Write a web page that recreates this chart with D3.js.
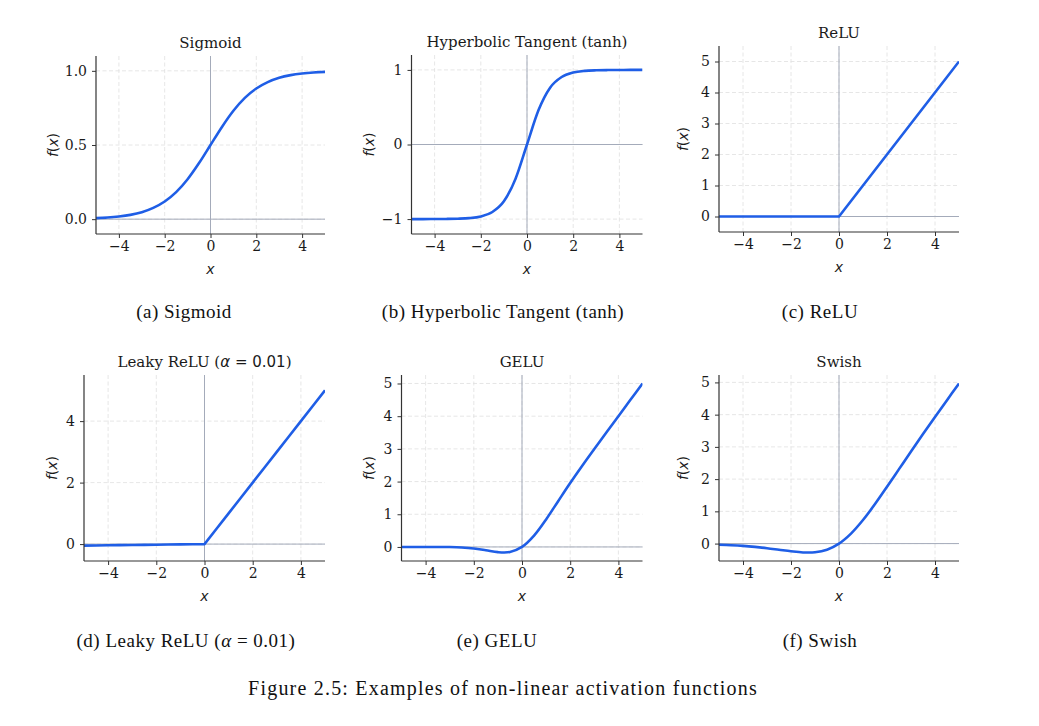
<!DOCTYPE html>
<html>
<head>
<meta charset="utf-8">
<script src="https://cdn.jsdelivr.net/npm/d3@7"></script>
<style>
  body { margin: 0; background: #fff; }
  svg { display: block; }
</style>
</head>
<body>
<div id="chart"></div>
<script>
// Sample points along x
const xs = [-5, -4.5, -4, -3.5, -3, -2.5, -2, -1.5, -1, -0.5, 0, 0.5, 1, 1.5, 2, 2.5, 3, 3.5, 4, 4.5, 5];

const sigmoidY = [0.007, 0.011, 0.018, 0.029, 0.047, 0.076, 0.119, 0.182, 0.269, 0.378, 0.5,
  0.622, 0.731, 0.818, 0.881, 0.924, 0.953, 0.971, 0.982, 0.989, 0.993];
const tanhY = [-1.0, -1.0, -0.999, -0.998, -0.995, -0.987, -0.964, -0.905, -0.762, -0.462, 0,
  0.462, 0.762, 0.905, 0.964, 0.987, 0.995, 0.998, 0.999, 1.0, 1.0];
const reluY = [0, 0, 0, 0, 0, 0, 0, 0, 0, 0, 0, 0.5, 1, 1.5, 2, 2.5, 3, 3.5, 4, 4.5, 5];
const leakyY = [-0.05, -0.045, -0.04, -0.035, -0.03, -0.025, -0.02, -0.015, -0.01, -0.005, 0,
  0.5, 1, 1.5, 2, 2.5, 3, 3.5, 4, 4.5, 5];
const geluY = [0, 0, -0.0001, -0.001, -0.004, -0.016, -0.046, -0.100, -0.159, -0.154, 0,
  0.346, 0.841, 1.400, 1.955, 2.484, 2.996, 3.499, 4.0, 4.5, 5.0];
const swishY = [-0.034, -0.050, -0.072, -0.103, -0.142, -0.190, -0.238, -0.274, -0.269, -0.189, 0,
  0.311, 0.731, 1.226, 1.762, 2.310, 2.858, 3.397, 3.928, 4.450, 4.967];

const xTicks = [-4, -2, 0, 2, 4];
const sigmoidTicks = [0, 0.5, 1];
const tanhTicks = [-1, 0, 1];
const reluTicks = [0, 1, 2, 3, 4, 5];
const leakyTicks = [0, 2, 4];

const titles = ['Sigmoid', 'Hyperbolic Tangent (tanh)', 'ReLU', 'Leaky ReLU', 'GELU', 'Swish'];
const captions = ['(a) Sigmoid', '(b) Hyperbolic Tangent (tanh)', '(c) ReLU', '(d) Leaky ReLU', '(e) GELU', '(f) Swish'];
const figureCaption = 'Figure 2.5: Examples of non-linear activation functions';

const width = 1039;
const height = 726;

const lineColor = '#1f5ee6';
const zeroColor = '#a4abba';
const gridColor = '#e0e0e0';
const spineColor = '#333';
const textColor = '#1a1a1a';
const serif = '"DejaVu Serif", serif';
const sans = '"DejaVu Sans", sans-serif';
const capFont = '"Liberation Serif", "Times New Roman", serif';

// Panel boxes: [left, right, top, bottom], y domain, caption centre
const panels = [
  { ys: sigmoidY, yDomain: [-0.1, 1.1], ticks: sigmoidTicks, fmt: d3.format('.1f'), box: [96, 325, 56, 234], labelOff: 43, capX: 184, capY: 318, curve: d3.curveMonotoneX },
  { ys: tanhY, yDomain: [-1.2, 1.2], ticks: tanhTicks, fmt: d3.format('d'), box: [411.5, 642.5, 55, 234], labelOff: 42, capX: 503, capY: 318, curve: d3.curveMonotoneX },
  { ys: reluY, yDomain: [-0.5, 5.5], ticks: reluTicks, fmt: d3.format('d'), box: [719, 959, 46, 232], labelOff: 36, capX: 820, capY: 318, curve: d3.curveLinear },
  { ys: leakyY, yDomain: [-0.55, 5.5], ticks: leakyTicks, fmt: d3.format('d'), box: [84, 325, 375, 561], labelOff: 32, capX: 186, capY: 647, curve: d3.curveLinear, alpha: true },
  { ys: geluY, yDomain: [-0.43, 5.26], ticks: reluTicks, fmt: d3.format('d'), box: [401.5, 642.5, 375, 561], labelOff: 32, capX: 497, capY: 647, curve: d3.curveCatmullRom },
  { ys: swishY, yDomain: [-0.54, 5.23], ticks: reluTicks, fmt: d3.format('d'), box: [719, 959, 375, 561], labelOff: 36, capX: 820, capY: 647, curve: d3.curveCatmullRom }
];

const svg = d3.select('#chart')
  .append('svg')
  .attr('width', width)
  .attr('height', height);

const defs = svg.append('defs');

panels.forEach((p, i) => {
  const [left, right, top, bottom] = p.box;

  const x = d3.scaleLinear().domain([-5, 5]).range([left, right]);
  const y = d3.scaleLinear().domain(p.yDomain).range([bottom, top]);

  const g = svg.append('g').attr('class', 'panel');

  // Clip so the thick line stops at the axes edge
  defs.append('clipPath')
    .attr('id', 'clip' + i)
    .append('rect')
    .attr('x', left).attr('y', top)
    .attr('width', right - left).attr('height', bottom - top);

  // Dashed grid
  g.selectAll('.vgrid')
    .data(xTicks)
    .enter().append('line')
    .attr('x1', d => x(d)).attr('x2', d => x(d))
    .attr('y1', top).attr('y2', bottom)
    .style('stroke', gridColor)
    .style('stroke-width', 0.8)
    .style('stroke-dasharray', '4,2.5');

  g.selectAll('.hgrid')
    .data(p.ticks)
    .enter().append('line')
    .attr('x1', left).attr('x2', right)
    .attr('y1', d => y(d)).attr('y2', d => y(d))
    .style('stroke', gridColor)
    .style('stroke-width', 0.8)
    .style('stroke-dasharray', '4,2.5');

  // Zero lines
  g.append('line')
    .attr('x1', x(0)).attr('x2', x(0))
    .attr('y1', top).attr('y2', bottom)
    .style('stroke', zeroColor)
    .style('stroke-width', 1);

  g.append('line')
    .attr('x1', left).attr('x2', right)
    .attr('y1', y(0)).attr('y2', y(0))
    .style('stroke', zeroColor)
    .style('stroke-width', 1);

  // The function curve
  const line = d3.line()
    .x((d, j) => x(xs[j]))
    .y(d => y(d))
    .curve(p.curve);

  g.append('path')
    .datum(p.ys)
    .attr('d', line)
    .attr('clip-path', `url(#clip${i})`)
    .style('fill', 'none')
    .style('stroke', lineColor)
    .style('stroke-width', 2.6)
    .style('stroke-linejoin', 'round');

  // Axes
  const xAxis = d3.axisBottom(x).tickValues(xTicks).tickSize(4).tickPadding(3).tickFormat(d3.format('d'));
  const yAxis = d3.axisLeft(y).tickValues(p.ticks).tickSize(4).tickPadding(5).tickFormat(p.fmt);

  const xg = g.append('g')
    .attr('transform', `translate(0, ${bottom})`)
    .call(xAxis);
  const yg = g.append('g')
    .attr('transform', `translate(${left}, 0)`)
    .call(yAxis);

  [xg, yg].forEach(ax => {
    ax.select('.domain').remove();
    ax.selectAll('line').style('stroke', spineColor).style('stroke-width', 1);
    ax.selectAll('text')
      .style('font-family', serif)
      .style('font-size', '14px')
      .style('fill', textColor);
  });

  // Spines (left and bottom only)
  g.append('line')
    .attr('x1', left).attr('x2', left)
    .attr('y1', top).attr('y2', bottom)
    .style('stroke', spineColor).style('stroke-width', 1.2);
  g.append('line')
    .attr('x1', left).attr('x2', right)
    .attr('y1', bottom).attr('y2', bottom)
    .style('stroke', spineColor).style('stroke-width', 1.2);

  // Title
  const title = g.append('text')
    .attr('x', (left + right) / 2)
    .attr('y', top - 8)
    .attr('text-anchor', 'middle')
    .style('font-family', serif)
    .style('font-size', '15px')
    .style('fill', textColor)
    .text(titles[i]);
  if (p.alpha) {
    title.append('tspan').text(' (');
    title.append('tspan').style('font-family', sans).style('font-style', 'italic').text('α');
    title.append('tspan').style('font-family', sans).text(' = 0.01');
    title.append('tspan').text(')');
  }

  // x label
  g.append('text')
    .attr('x', (left + right) / 2)
    .attr('y', bottom + 40)
    .attr('text-anchor', 'middle')
    .style('font-family', sans)
    .style('font-style', 'italic')
    .style('font-size', '14px')
    .style('fill', textColor)
    .text('x');

  // y label
  const yl = g.append('text')
    .attr('transform', `translate(${left - p.labelOff}, ${(top + bottom) / 2}) rotate(-90)`)
    .attr('text-anchor', 'middle')
    .attr('dy', '0.35em')
    .style('font-family', sans)
    .style('font-size', '14px')
    .style('fill', textColor);
  yl.append('tspan').style('font-style', 'italic').text('f');
  yl.append('tspan').text('(');
  yl.append('tspan').style('font-style', 'italic').text('x');
  yl.append('tspan').text(')');

  // Sub-caption
  const cap = svg.append('text')
    .attr('x', p.capX)
    .attr('y', p.capY)
    .attr('text-anchor', 'middle')
    .style('font-family', capFont)
    .style('font-size', '19px')
    .style('letter-spacing', '0.5px')
    .style('fill', '#111')
    .text(captions[i]);
  if (p.alpha) {
    cap.append('tspan').text(' (');
    cap.append('tspan').style('font-style', 'italic').text('α');
    cap.append('tspan').text(' = 0.01)');
  }
});

// Figure caption
svg.append('text')
  .attr('x', 503)
  .attr('y', 695)
  .attr('text-anchor', 'middle')
  .style('font-family', capFont)
  .style('font-size', '20px')
  .style('letter-spacing', '1.2px')
  .style('fill', '#111')
  .text(figureCaption);
</script>
</body>
</html>
